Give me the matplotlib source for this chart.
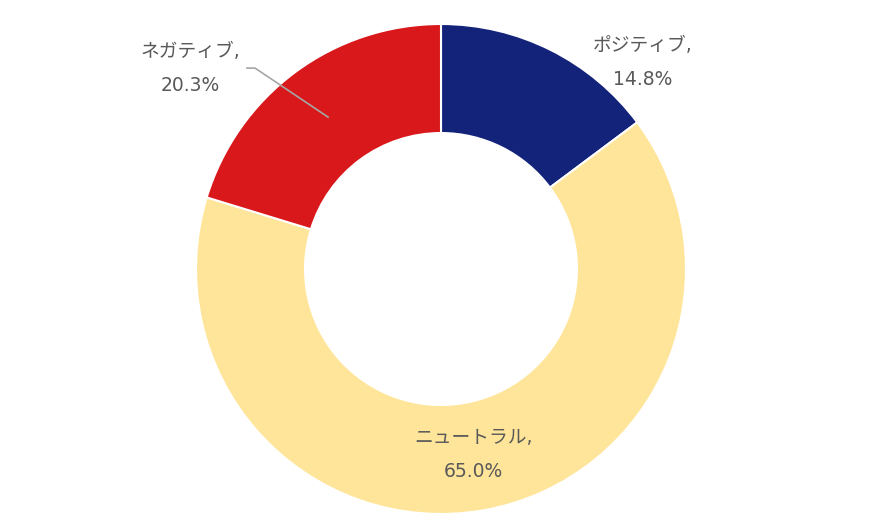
import matplotlib
matplotlib.use("Agg")
import matplotlib.pyplot as plt

plt.rcParams['font.family'] = ['DejaVu Sans', 'Noto Sans CJK JP']

labels = ["ポジティブ", "ニュートラル", "ネガティブ"]
values = [14.8, 65.0, 20.3]
colors = ["#13237A", "#FFE599", "#D9181B"]

# label centres in data units (radius 1 = outer edge)
label_pos = [(0.824, 0.841), (0.131, -0.759), (-1.024, 0.820)]

W, H = 889, 521
cx, cy, R = 441, 269, 245

fig = plt.figure(figsize=(W / 100, H / 100), dpi=100)
ax = fig.add_axes([(cx - R) / W, (H - cy - R) / H, 2 * R / W, 2 * R / H])

ax.pie(values, colors=colors, startangle=90, counterclock=False,
       radius=1.0, wedgeprops=dict(width=0.445, edgecolor="white", linewidth=1.5))

for lab, v, (x, y) in zip(labels, values, label_pos):
    ax.text(x, y, f"{lab},\n{v:.1f}%", ha="center", va="center",
            fontsize=13.5, color="#595959", linespacing=2.0)

# leader line for the negative label
ax.plot([-0.792, -0.759, -0.461], [0.820, 0.820, 0.620],
        color="#A6A6A6", linewidth=1.2, clip_on=False)

ax.set_xlim(-1, 1)
ax.set_ylim(-1, 1)
ax.set_aspect("auto")
ax.axis("off")

fig.savefig("out.png", dpi=100)
